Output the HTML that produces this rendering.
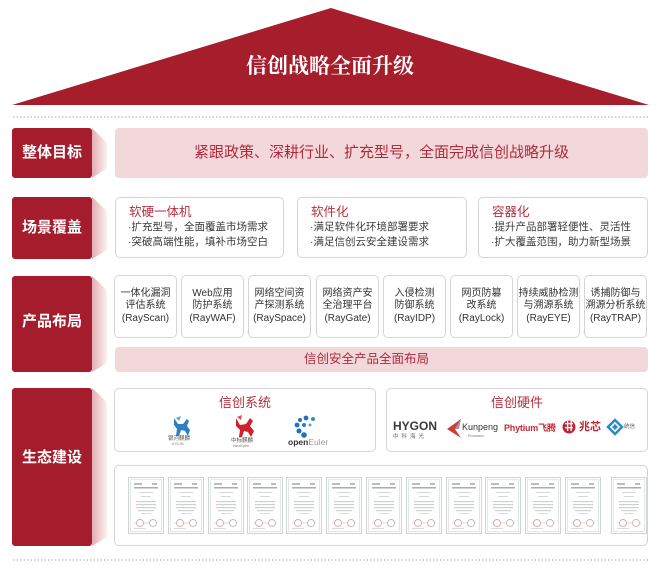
<!DOCTYPE html>
<html><head><meta charset="utf-8">
<style>
*{margin:0;padding:0;box-sizing:border-box}
body{width:666px;height:574px;background:#fff;position:relative;overflow:hidden;font-family:"Liberation Sans","Noto Sans CJK SC",sans-serif}
.a{position:absolute;white-space:nowrap}
.lab{position:absolute;left:12px;width:80px;background:#a51d2c;border-radius:3px;color:#fff;font-weight:bold;font-size:15px;text-align:center;font-family:"Liberation Sans","Noto Sans CJK SC",sans-serif}
.box{position:absolute;background:#fff;border:1px solid #d9d3d3;border-radius:5px}
.pink{position:absolute;background:#f3d8db;border-radius:4px}
.st{position:absolute;left:13px;top:6px;font-size:12.5px;line-height:17px;color:#b3303f;white-space:nowrap}
.bl{position:absolute;left:12px;font-size:10.5px;line-height:15px;color:#3a3a3a;white-space:nowrap}
.pb{position:absolute;top:275px;width:63px;height:63px;background:#fff;border:1px solid #d9d3d3;border-radius:5px;display:flex;flex-direction:column;justify-content:center;align-items:center;font-size:10px;line-height:12.5px;color:#333;white-space:nowrap}
</style></head><body>
<svg class="a" style="left:0;top:0" width="666" height="574" viewBox="0 0 666 574">
<defs>
<linearGradient id="wg" x1="0" y1="0" x2="1" y2="0">
<stop offset="0" stop-color="#e3adb2"/><stop offset="1" stop-color="#fcf1f2"/>
</linearGradient>
<g id="cert">
<rect x="0.5" y="0.5" width="35" height="56" fill="#fff" stroke="#cfd4d4"/>
<rect x="2.5" y="2.5" width="31" height="52" fill="none" stroke="#e2e6e6"/>
<rect x="6" y="6" width="8" height="2" fill="#b9bdbd"/>
<rect x="24" y="6" width="5" height="2" fill="#b9bdbd"/>
<rect x="6" y="10" width="24" height="1.5" fill="#a9adad"/>
<rect x="11" y="15" width="14" height="1" fill="#d4d8d8"/>
<rect x="13" y="19" width="10" height="1" fill="#d4d8d8"/>
<rect x="8" y="24" width="20" height="1.2" fill="#cdd1d1"/>
<rect x="8" y="27" width="20" height="1.2" fill="#cdd1d1"/>
<rect x="8" y="30" width="20" height="1.2" fill="#cdd1d1"/>
<rect x="10" y="33" width="16" height="1.2" fill="#cdd1d1"/>
<rect x="13" y="36" width="10" height="1" fill="#d8dcdc"/>
<line x1="6" y1="46" x2="30" y2="46" stroke="#ccd0d0" stroke-width="0.8"/>
<circle cx="12" cy="46" r="3.5" fill="#fff" stroke="#d9a8ab" stroke-width="0.9"/>
<circle cx="25" cy="46" r="3.5" fill="#fff" stroke="#c9b5b5" stroke-width="0.9"/>
<rect x="6" y="51" width="12" height="1" fill="#d8dcdc"/>
</g>
</defs>
<polygon points="12,105 331,8 649,105" fill="#a61d2c"/>
<line x1="13" y1="117" x2="649" y2="117" stroke="#b8b8b8" stroke-width="1.2" stroke-dasharray="1.5 2"/>
<line x1="13" y1="560" x2="649" y2="560" stroke="#b8b8b8" stroke-width="1.2" stroke-dasharray="1.5 2"/>
<polygon points="92,128 107,143 107,168 92,178" fill="url(#wg)"/>
<polygon points="92,197 107,211 107,250 92,259" fill="url(#wg)"/>
<polygon points="92,276 107,290 107,363 92,372" fill="url(#wg)"/>
<polygon points="92,388 107,402 107,537 92,546" fill="url(#wg)"/>
</svg>

<div class="a" style="left:180px;top:51px;width:300px;height:30px;line-height:30px;text-align:center;color:#fff;font-size:21px;font-weight:bold;font-family:'Liberation Serif','Noto Serif CJK SC',serif">信创战略全面升级</div>

<!-- 整体目标 -->
<div class="lab" style="top:128px;height:50px;line-height:50px">整体目标</div>
<div class="pink" style="left:115px;top:128px;width:533px;height:50px;line-height:50px;text-align:center;font-size:15px;color:#b02a3b">紧跟政策、深耕行业、扩充型号，全面完成信创战略升级</div>

<!-- 场景覆盖 -->
<div class="lab" style="top:197px;height:62px;line-height:62px">场景覆盖</div>
<div class="box" style="left:115px;top:197px;width:169px;height:61px">
<div class="st">软硬一体机</div>
<div class="bl" style="top:22px">·扩充型号，全面覆盖市场需求</div>
<div class="bl" style="top:37px">·突破高端性能，填补市场空白</div>
</div>
<div class="box" style="left:297px;top:197px;width:170px;height:61px">
<div class="st">软件化</div>
<div class="bl" style="top:22px">·满足软件化环境部署要求</div>
<div class="bl" style="top:37px">·满足信创云安全建设需求</div>
</div>
<div class="box" style="left:478px;top:197px;width:170px;height:61px">
<div class="st">容器化</div>
<div class="bl" style="top:22px">·提升产品部署轻便性、灵活性</div>
<div class="bl" style="top:37px">·扩大覆盖范围，助力新型场景</div>
</div>

<!-- 产品布局 -->
<div class="lab" style="top:276px;height:96px;line-height:92px">产品布局</div>
<div class="pb" style="left:114px"><span>一体化漏洞</span><span>评估系统</span><span>(RayScan)</span></div>
<div class="pb" style="left:181px"><span>Web应用</span><span>防护系统</span><span>(RayWAF)</span></div>
<div class="pb" style="left:248px"><span>网络空间资</span><span>产探测系统</span><span>(RaySpace)</span></div>
<div class="pb" style="left:316px"><span>网络资产安</span><span>全治理平台</span><span>(RayGate)</span></div>
<div class="pb" style="left:383px"><span>入侵检测</span><span>防御系统</span><span>(RayIDP)</span></div>
<div class="pb" style="left:450px"><span>网页防篡</span><span>改系统</span><span>(RayLock)</span></div>
<div class="pb" style="left:517px"><span>持续威胁检测</span><span>与溯源系统</span><span>(RayEYE)</span></div>
<div class="pb" style="left:584px"><span>诱捕防御与</span><span>溯源分析系统</span><span>(RayTRAP)</span></div>
<div class="pink" style="left:115px;top:347px;width:533px;height:25px;line-height:25px;text-align:center;padding-right:30px;font-size:12.5px;color:#b02a3b">信创安全产品全面布局</div>

<!-- 生态建设 -->
<div class="lab" style="top:388px;height:158px;line-height:140px">生态建设</div>
<div class="box" style="left:114px;top:388px;width:262px;height:64px"></div>
<div class="a" style="left:114px;top:394px;width:262px;text-align:center;font-size:13px;line-height:18px;color:#b3303f">信创系统</div>
<div class="box" style="left:386px;top:388px;width:262px;height:64px"></div>
<div class="a" style="left:386px;top:394px;width:262px;text-align:center;font-size:13px;line-height:18px;color:#b3303f">信创硬件</div>

<div class="box" style="left:114px;top:465px;width:534px;height:81px"></div>

<svg class="a" style="left:0;top:0" width="666" height="574" viewBox="0 0 666 574">
<!-- Kylin blue -->
<path d="M174,418 L178,424 L183,424 L187,419 L189,421 L187,426 L190,430 L188,436 L185,431 L181,430 L179,436 L176,436 L177,429 L174,425 Z" fill="#2d7fc1"/>
<path d="M176,418 L179,421 L181,416 Z" fill="#5aa7dc"/>
<!-- NeoKylin red -->
<path d="M236,418 L240,425 L246,424 L250,418 L253,421 L250,426 L254,431 L251,437 L248,432 L244,431 L242,437 L239,437 L240,430 L236,426 Z" fill="#d0222c"/>
<path d="M237,417 L241,420 L242,415 Z" fill="#e04a50"/>
<!-- openEuler dots -->
<circle cx="300" cy="420" r="2" fill="#1f70c0"/>
<circle cx="306" cy="418" r="2.4" fill="#1f70c0"/>
<circle cx="313" cy="419" r="2" fill="#3a8ad0"/>
<circle cx="297" cy="425" r="2.4" fill="#1f70c0"/>
<circle cx="304" cy="425" r="2" fill="#2a7cc8"/>
<circle cx="310" cy="425" r="1.5" fill="#5aa0dc"/>
<circle cx="299" cy="431" r="2.5" fill="#1f70c0"/>
<circle cx="304" cy="435" r="2.8" fill="#1f70c0"/>
<!-- Kunpeng chevron -->
<polygon points="461,419 447,429 461,438 455,429" fill="#d33a3a"/>
<polygon points="461,419 455,429 459,429" fill="#999"/>
<!-- Zhaoxin circle -->
<circle cx="569" cy="427" r="6.5" fill="#b52a35"/>
<rect x="565" y="423" width="8" height="1.3" fill="#fff"/>
<rect x="565" y="427" width="8" height="1.3" fill="#fff"/>
<rect x="567" y="421" width="1.3" height="10" fill="#fff"/>
<rect x="570.5" y="421" width="1.3" height="10" fill="#fff"/>
<!-- UOS diamond -->
<polygon points="615,420 622,427 615,434 608,427" fill="none" stroke="#2b8ac0" stroke-width="2.5"/>
<polygon points="615,424 618,427 615,430 612,427" fill="#2b8ac0"/>
<!-- certificates -->
<use href="#cert" x="128" y="477"/>
<use href="#cert" x="168" y="477"/>
<use href="#cert" x="208" y="477"/>
<use href="#cert" x="247" y="477"/>
<use href="#cert" x="286" y="477"/>
<use href="#cert" x="326" y="477"/>
<use href="#cert" x="366" y="477"/>
<use href="#cert" x="406" y="477"/>
<use href="#cert" x="446" y="477"/>
<use href="#cert" x="485" y="477"/>
<use href="#cert" x="525" y="477"/>
<use href="#cert" x="565" y="477"/>
<use href="#cert" x="611" y="477"/>
</svg>

<div class="a" style="left:168px;top:436px;font-size:5.5px;line-height:6px;color:#555">银河麒麟</div>
<div class="a" style="left:172px;top:442px;font-size:4px;line-height:4px;color:#777">KYLIN</div>
<div class="a" style="left:231px;top:438px;font-size:5.5px;line-height:6px;color:#555">中标麒麟</div>
<div class="a" style="left:233px;top:444px;font-size:4px;line-height:4px;color:#777">NeoKylin</div>
<div class="a" style="left:288px;top:437px;font-size:8.5px;line-height:10px;color:#333"><b>open</b><span style="color:#999">Euler</span></div>

<div class="a" style="left:393px;top:419px;font-size:12px;line-height:14px;font-weight:bold;color:#3a3a3a">HYGON</div>
<div class="a" style="left:393px;top:434px;font-size:5.5px;line-height:6px;color:#666;letter-spacing:3px">中科海光</div>
<div class="a" style="left:462px;top:422px;font-size:9px;line-height:11px;color:#333">Kunpeng</div>
<div class="a" style="left:468px;top:434px;font-size:3.5px;line-height:4px;color:#777">Processor</div>
<div class="a" style="left:504px;top:422px;font-size:9px;line-height:12px;font-weight:bold;color:#c8283a;letter-spacing:-0.2px">Phytium飞腾</div>
<div class="a" style="left:579px;top:420px;font-size:11px;line-height:14px;font-weight:bold;color:#b52a35">兆芯</div>
<div class="a" style="left:624px;top:424px;font-size:5.5px;line-height:6px;color:#666">统信</div>
</body></html>
